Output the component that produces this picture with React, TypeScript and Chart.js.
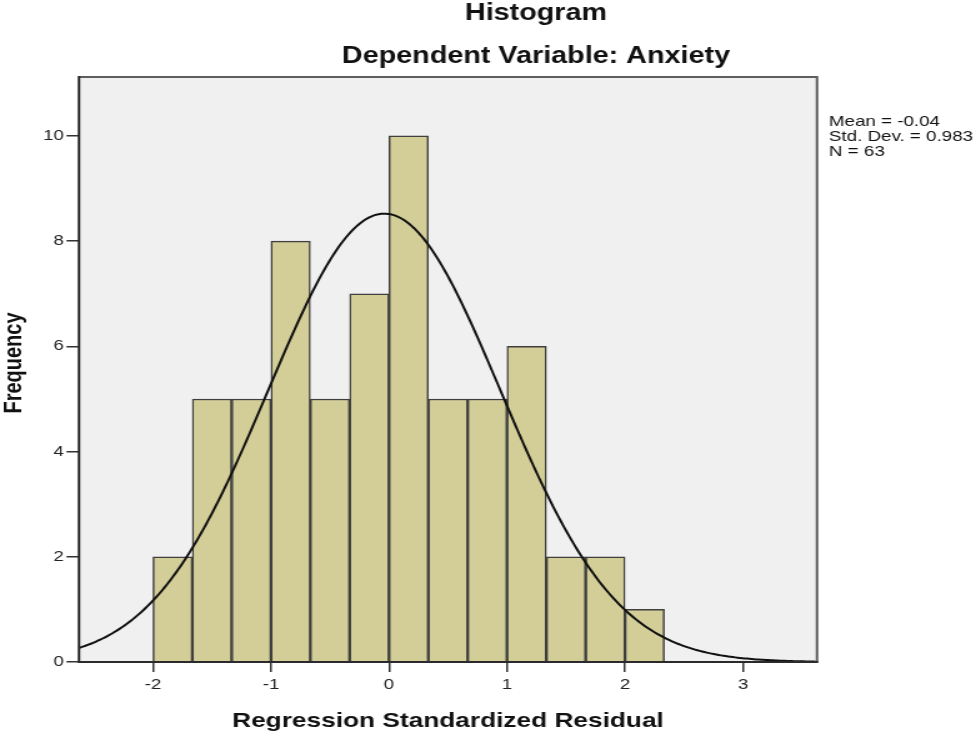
import React, { useEffect, useRef } from "react";
import { Chart, registerables } from "chart.js";

Chart.register(...registerables);

// ---- data ----
const BIN_CENTERS = [-11 / 6, -9 / 6, -7 / 6, -5 / 6, -3 / 6, -1 / 6, 1 / 6, 3 / 6, 5 / 6, 7 / 6, 9 / 6, 11 / 6, 13 / 6];
const FREQUENCIES = [2, 5, 5, 8, 5, 7, 10, 5, 5, 6, 2, 2, 1];
const X_TICKS = [-2, -1, 0, 1, 2, 3];
const Y_TICKS = [0, 2, 4, 6, 8, 10];
const STATS_LINES = ["Mean = -0.04", "Std. Dev. = 0.983", "N = 63"];
const MEAN = -0.04;
const STD_DEV = 0.983;
const N = 63;
const BIN_WIDTH = 1 / 3;
const X_MIN = -2.627;
const X_MAX = 3.627;
const Y_MAX = 11.12;
const TITLE = "Histogram";
const SUBTITLE = "Dependent Variable: Anxiety";
const X_TITLE = "Regression Standardized Residual";
const Y_TITLE = "Frequency";

// fitted normal curve defined by the stated Mean / Std. Dev. / N
const CURVE_X: number[] = [];
for (let x = X_MIN; x <= X_MAX + 1e-9; x += 0.02) CURVE_X.push(x);
const normalHeight = (x: number) =>
  ((N * BIN_WIDTH) / (STD_DEV * Math.sqrt(2 * Math.PI))) *
  Math.exp(-0.5 * Math.pow((x - MEAN) / STD_DEV, 2));

// ---- layout (internal canvas is narrower, stretched by CSS) ----
const OUT_W = 976;
const OUT_H = 733;
const IN_W = 781;
const SX = OUT_W / IN_W;
const FONT = "'Liberation Sans', Arial, Helvetica, sans-serif";

const decor = {
  id: "decor",
  beforeDraw(chart: any) {
    const { ctx, chartArea: a } = chart;
    ctx.save();
    ctx.fillStyle = "#ffffff";
    ctx.fillRect(0, 0, chart.width, chart.height);
    ctx.fillStyle = "#f0f0f0";
    ctx.fillRect(a.left, a.top, a.right - a.left, a.bottom - a.top);
    ctx.restore();
  },
  afterDraw(chart: any) {
    const { ctx, chartArea: a } = chart;
    ctx.save();
    // frame
    ctx.lineWidth = 2;
    ctx.strokeStyle = "#5e5e5e";
    ctx.beginPath();
    ctx.moveTo(a.left, a.top);
    ctx.lineTo(a.right, a.top);
    ctx.lineTo(a.right, a.bottom);
    ctx.stroke();
    ctx.strokeStyle = "#2a2a2a";
    ctx.beginPath();
    ctx.moveTo(a.left, a.top - 1);
    ctx.lineTo(a.left, a.bottom);
    ctx.lineTo(a.right + 1, a.bottom);
    ctx.stroke();

    ctx.fillStyle = "#111";
    ctx.textAlign = "center";
    ctx.textBaseline = "alphabetic";
    ctx.font = `bold 23px ${FONT}`;
    ctx.fillText(TITLE, 536 / SX, 20);
    ctx.fillText(SUBTITLE, 536 / SX, 63);

    ctx.font = `bold 21px ${FONT}`;
    ctx.fillText(X_TITLE, (a.left + a.right) / 2, 727);

    ctx.save();
    ctx.font = `bold 20px ${FONT}`;
    ctx.translate(16.8, 363);
    ctx.rotate(-Math.PI / 2);
    ctx.fillText(Y_TITLE, 0, 0);
    ctx.restore();

    ctx.textAlign = "left";
    ctx.font = `15px ${FONT}`;
    STATS_LINES.forEach((t, i) => ctx.fillText(t, 829 / SX, 126 + i * 15));
    ctx.restore();
  },
};

export default function App() {
  const ref = useRef<HTMLCanvasElement>(null);
  useEffect(() => {
    const chart = new Chart(ref.current as HTMLCanvasElement, {
      type: "bar",
      data: {
        datasets: [
          {
            type: "line",
            data: CURVE_X.map((x) => ({ x, y: normalHeight(x) })),
            borderColor: "#111111",
            borderWidth: 2,
            pointRadius: 0,
            fill: false,
            tension: 0,
            order: 0,
          } as any,
          {
            type: "bar",
            data: BIN_CENTERS.map((x, i) => ({ x, y: FREQUENCIES[i] })),
            backgroundColor: "#d3ce97",
            borderColor: "#3f3f3f",
            borderWidth: 1.5,
            barPercentage: 1,
            categoryPercentage: 1,
            order: 1,
          } as any,
        ],
      },
      options: {
        responsive: false,
        animation: false,
        devicePixelRatio: 1,
        layout: { padding: { left: 0, top: 77, right: IN_W - 817 / SX, bottom: 0 } },
        plugins: { legend: { display: false }, tooltip: { enabled: false }, title: { display: false } },
        scales: {
          x: {
            type: "linear",
            min: X_MIN,
            max: X_MAX,
            offset: false,
            afterBuildTicks: (s: any) => {
              s.ticks = X_TICKS.map((v) => ({ value: v }));
            },
            afterFit: (s: any) => {
              s.height = OUT_H - 662;
            },
            ticks: { font: { size: 15, family: FONT }, color: "#222", padding: 4, maxRotation: 0, autoSkip: false },
            grid: {
              display: true,
              offset: false,
              drawOnChartArea: false,
              drawTicks: true,
              tickLength: 10,
              color: "#333",
              lineWidth: 1.5,
            },
            border: { display: false },
          },
          y: {
            type: "linear",
            min: 0,
            max: Y_MAX,
            afterBuildTicks: (s: any) => {
              s.ticks = Y_TICKS.map((v) => ({ value: v }));
            },
            afterFit: (s: any) => {
              s.width = 79 / SX;
            },
            ticks: { font: { size: 15, family: FONT }, color: "#222", padding: 2, autoSkip: false },
            grid: {
              display: true,
              offset: false,
              drawOnChartArea: false,
              drawTicks: true,
              tickLength: 10,
              color: "#333",
              lineWidth: 1.5,
            },
            border: { display: false },
          },
        },
      } as any,
      plugins: [decor],
    });
    return () => chart.destroy();
  }, []);
  return (
    <div style={{ position: "absolute", left: 0, top: 0, width: OUT_W, height: OUT_H, background: "#fff" }}>
      <canvas
        ref={ref}
        width={IN_W}
        height={OUT_H}
        style={{ width: `${OUT_W}px`, height: `${OUT_H}px`, display: "block" }}
      />
    </div>
  );
}
